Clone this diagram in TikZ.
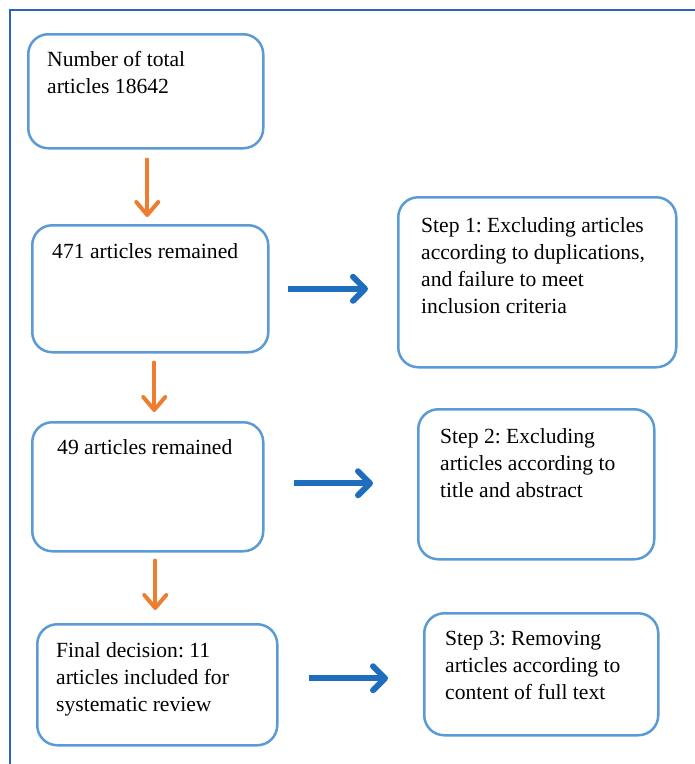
\documentclass[tikz,border=0pt]{standalone}
\usepackage{fontspec}
\setmainfont{Liberation Serif}
\usetikzlibrary{arrows.meta}
\frenchspacing
\definecolor{boxblue}{HTML}{5B9BD5}
\definecolor{frameblue}{HTML}{2F5FC0}
\definecolor{arrblue}{HTML}{1F6EBE}
\definecolor{arrorange}{HTML}{ED7D31}
\tikzset{
  flowbox/.style={draw=boxblue, line width=2.5pt, rounded corners=20pt, fill=none, anchor=north west, inner sep=0pt},
  flowtext/.style={anchor=base west, inner sep=0pt, align=left, font=\fontsize{21.6pt}{27pt}\selectfont},
  oarrow/.style={draw=arrorange, line width=4pt, line cap=round, -{Straight Barb[length=13pt,width=22pt,line cap=round,line join=round]}},
  barrow/.style={draw=arrblue, line width=6pt, -{Straight Barb[length=12pt,width=24pt,line cap=round,line join=round]}}
}
\begin{document}
\begin{tikzpicture}[x=1pt,y=-1pt]
\useasboundingbox (0,0) rectangle (695,764);
\draw[frameblue, line width=1.5pt] (10,764) -- (10,10) -- (695,10);
% boxes
\node[flowbox, minimum width=235pt, minimum height=114pt] (a) at (27,33) {};
\node[flowbox, minimum width=236pt, minimum height=127pt] (b) at (31,224) {};
\node[flowbox, minimum width=278pt, minimum height=170pt] (c) at (397,196) {};
\node[flowbox, minimum width=231pt, minimum height=129pt] (d) at (31,421) {};
\node[flowbox, minimum width=236pt, minimum height=150pt] (e) at (417,408) {};
\node[flowbox, minimum width=240pt, minimum height=121pt] (f) at (36,623) {};
\node[flowbox, minimum width=234pt, minimum height=122pt] (g) at (423,612) {};
% texts (anchored at the baseline of the last line)
\node[flowtext] (ta) at (47,93) {Number of total\\articles 18642};
\node[flowtext] (tb) at (52,258) {471 articles remained};
\node[flowtext] (tc) at (421,313) {Step 1: Excluding articles\\according to duplications,\\and failure to meet\\inclusion criteria};
\node[flowtext] (td) at (57,454) {49 articles remained};
\node[flowtext] (te) at (440,497) {Step 2: Excluding\\articles according to\\title and abstract};
\node[flowtext] (tf) at (56,711) {Final decision: 11\\articles included for\\systematic review};
\node[flowtext] (tg) at (445,699) {Step 3: Removing\\articles according to\\content of full text};
% orange arrows
\draw[oarrow, shorten <=10pt, shorten >=7pt] ([xshift=1.5pt]a.south) -- ([xshift=1.5pt]a.south |- b.north);
\draw[oarrow, shorten <=9pt, shorten >=9pt] ([xshift=4pt]b.south) -- ([xshift=4pt]b.south |- d.north);
\draw[oarrow, shorten <=8pt, shorten >=13pt] ([xshift=7.5pt]d.south) -- ([xshift=7.5pt]d.south |- f.north);
% blue arrows
\draw[barrow, shorten <=18pt, shorten >=29pt] (b.east) -- (b.east -| c.west);
\draw[barrow, shorten <=29pt, shorten >=44pt] ([yshift=3.5pt]d.east) -- ([yshift=3.5pt]d.east -| e.west);
\draw[barrow, shorten <=30pt, shorten >=35pt] ([yshift=6.5pt]f.east) -- ([yshift=6.5pt]f.east -| g.west);
\end{tikzpicture}
\end{document}
